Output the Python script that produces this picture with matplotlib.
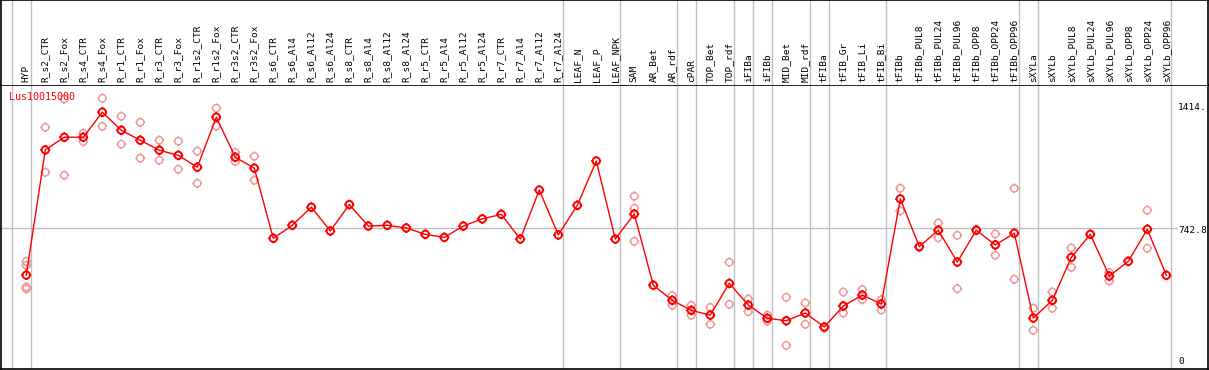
import matplotlib
matplotlib.use("Agg")
import matplotlib.pyplot as plt
from matplotlib.path import Path
import numpy as np

# sample names (header labels)
samples = ["HYP", "R_s2_CTR", "R_s2_Fox", "R_s4_CTR", "R_s4_Fox", "R_r1_CTR", "R_r1_Fox",
           "R_r3_CTR", "R_r3_Fox", "R_r1s2_CTR", "R_r1s2_Fox", "R_r3s2_CTR", "R_r3s2_Fox",
           "R_s6_CTR", "R_s6_Al4", "R_s6_Al12", "R_s6_Al24", "R_s8_CTR", "R_s8_Al4",
           "R_s8_Al12", "R_s8_Al24", "R_r5_CTR", "R_r5_Al4", "R_r5_Al12", "R_r5_Al24",
           "R_r7_CTR", "R_r7_Al4", "R_r7_Al12", "R_r7_Al24", "LEAF_N", "LEAF_P", "LEAF_NPK",
           "SAM", "AR_Bet", "AR_rdf", "cPAR", "TOP_Bet", "TOP_rdf", "iFIBa", "iFIBb",
           "MID_Bet", "MID_rdf", "tFIBa", "tFIB_Gr", "tFIB_Li", "tFIB_Bi", "tFIBb",
           "tFIBb_PUL8", "tFIBb_PUL24", "tFIBb_PUL96", "tFIBb_OPP8", "tFIBb_OPP24",
           "tFIBb_OPP96", "sXYLa", "sXYLb", "sXYLb_PUL8", "sXYLb_PUL24", "sXYLb_PUL96",
           "sXYLb_OPP8", "sXYLb_OPP24", "sXYLb_OPP96"]

# mean expression per sample
means = [493, 1157, 1224, 1224, 1357, 1261, 1208, 1155, 1128, 1065, 1330, 1118, 1060,
         688, 757, 853, 727, 867, 753, 757, 743, 709, 693, 753, 791, 815, 684, 944, 706,
         863, 1098, 684, 817, 439, 359, 306, 281, 449, 334, 264, 251, 292, 218, 329, 387,
         340, 897, 644, 731, 562, 731, 653, 715, 265, 359, 587, 709, 488, 566, 736, 492]

# individual replicates per sample
replicates = [[565, 545, 430, 420], [1277, 1038], [1427, 1022], [1245, 1201], [1431, 1282],
              [1335, 1187], [1303, 1113], [1208, 1102], [1203, 1054], [1150, 980],
              [1378, 1283], [1144, 1095], [1123, 996],
              [], [], [], [], [], [], [], [], [], [], [], [], [], [], [], [], [], [], [],
              [911, 847, 672], [], [384, 333], [333, 280], [322, 232], [561, 338],
              [366, 299], [281, 249], [375, 120], [345, 232], [211], [403, 292],
              [416, 363], [363, 308], [953, 833], [640], [769, 691], [704, 421], [735],
              [711, 598], [953, 471], [317, 200], [403, 317], [637, 534], [], [506, 462],
              [], [837, 635], []]

# indices after which a grey separator is drawn
separators = [-1, 0, 28, 31, 34, 35, 37, 38, 39, 41, 42, 45, 52, 53, 60]

gene = "Lus10015000"
ymax_label = "1414."
ymid_label = "742.8"
ymid = 742.8

plt.rcParams['font.family'] = 'DejaVu Sans Mono'

W, H = 1209, 370
fig = plt.figure(figsize=(W / 100, H / 100), dpi=100)

# circle marker with little ticks
circ = Path.unit_circle()
ticks = Path([(0, 1), (0, 1.35), (0, -1), (0, -1.35), (1, 0), (1.35, 0), (-1, 0), (-1.35, 0)],
             [Path.MOVETO, Path.LINETO] * 4)
tick_circle = Path.make_compound_path(circ, ticks)

x = np.arange(len(samples))
xlim = ((1 - 26.3) / 19, (1208 - 26.3) / 19)

ax = fig.add_axes([1 / W, 1 / H, 1207 / W, 284 / H])
hdr = fig.add_axes([1 / W, 285 / H, 1207 / W, 85 / H])

for a in (ax, hdr):
    a.set_xlim(*xlim)
    a.set_xticks([])
    a.set_yticks([])
    for s in a.spines.values():
        s.set_color("black")
        s.set_linewidth(1.2)
    for i in separators:
        a.axvline(i + 0.23, color="#c0c0c0", lw=1, zorder=0)

hdr.set_ylim(0, 1)
hdr.spines["bottom"].set_visible(False)
for i, name in enumerate(samples):
    hdr.text(i, 0.03, name, rotation=90, ha="center", va="bottom", fontsize=6.8)

ax.set_ylim(-5, 1501)
ax.plot([xlim[0], 60.55], [ymid, ymid], color="#c0c0c0", lw=1, zorder=0)

rx = [i for i, r in enumerate(replicates) for _ in r]
ry = [v for r in replicates for v in r]
ax.scatter(rx, ry, marker=tick_circle, s=50, facecolors="none", edgecolors="#ee9a9a",
           linewidths=1.1, zorder=2)

ax.plot(x, means, color="red", lw=1, zorder=3)
ax.scatter(x, means, marker=tick_circle, s=50, facecolors="none", edgecolors="red",
           linewidths=1.4, zorder=4)

ax.text(-0.91, 1438, gene, color="red", fontsize=7.2, ha="left", va="center")
ax.text(60.62, 1384, ymax_label, fontsize=6.8, ha="left", va="center")
ax.text(60.62, 727, ymid_label, fontsize=6.8, ha="left", va="center")
ax.text(60.62, 33, "0", fontsize=6.8, ha="left", va="center")

fig.savefig("out.png", dpi=100)
